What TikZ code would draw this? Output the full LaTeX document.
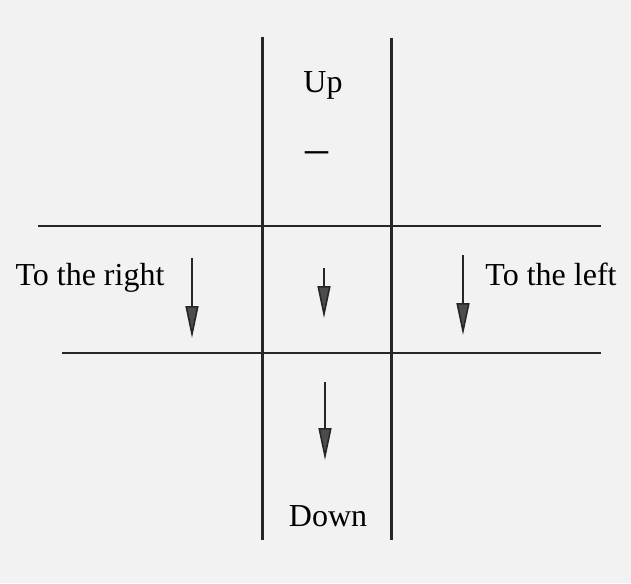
\documentclass[tikz,border=0pt]{standalone}
\usepackage{fontspec}
\setmainfont{Liberation Serif}
\usetikzlibrary{arrows.meta}
\begin{document}
\begin{tikzpicture}[x=0.5pt,y=-0.5pt,
  g/.style={draw=black!85,line width=1.5pt},
  h/.style={draw=black!85,line width=1.1pt},
  a/.style={draw=black!85,line width=0.8pt,-{Triangle[length=16pt,width=6.5pt,fill=black!70]}},
  lab/.style={font=\fontsize{16}{19}\selectfont,inner sep=0pt,anchor=base}]
  \fill[black!5] (0,0) rectangle (631,583);
  \useasboundingbox (0,0) rectangle (631,583);
  % grid: two vertical and two horizontal lines
  \coordinate (v1t) at (262,37); \coordinate (v1b) at (262,540);
  \coordinate (v2t) at (391,38); \coordinate (v2b) at (391,540);
  \coordinate (h1l) at (38,226); \coordinate (h1r) at (601,226);
  \coordinate (h2l) at (62,353); \coordinate (h2r) at (601,353);
  \draw[g] (v1t)--(v1b) (v2t)--(v2b);
  \draw[h] (h1l)--(h1r) (h2l)--(h2r);
  % downward arrows
  \coordinate (r0) at (192,258); \coordinate (r1) at (192,338);
  \coordinate (m0) at (324,268); \coordinate (m1) at (324,318);
  \coordinate (l0) at (463,255); \coordinate (l1) at (463,335);
  \coordinate (d0) at (325,382); \coordinate (d1) at (325,460);
  \foreach \p in {r,m,l,d} \draw[a] (\p0)--(\p1);
  % labels, placed on their baselines
  \node[lab] (up) at (323,93) {Up};
  \node[lab,font=\fontsize{23}{23}\selectfont,anchor=center] (minus) at (317,158) {–};
  \node[lab] (down) at (328,526) {Down};
  \node[lab] (right) at (90,285) {To the right};
  \node[lab] (left) at (551,285) {To the left};
\end{tikzpicture}
\end{document}
